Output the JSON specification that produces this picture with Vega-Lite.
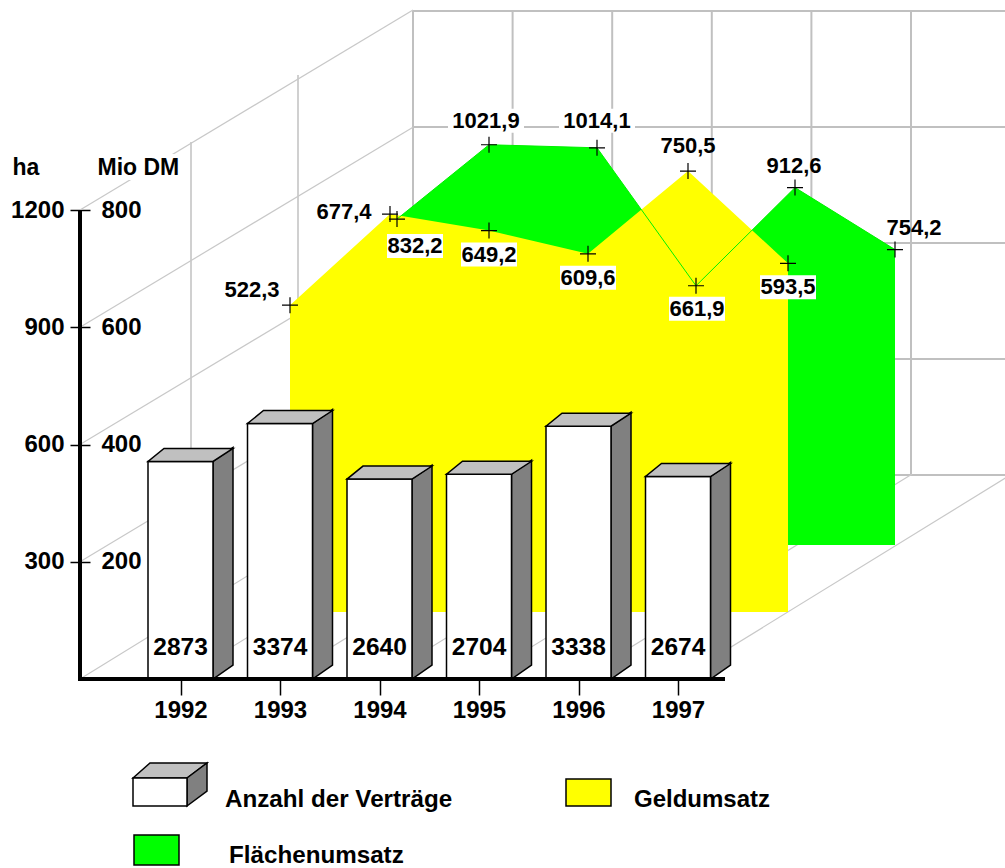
{"$schema":"https://vega.github.io/schema/vega-lite/v6.json","width":1005,"height":868,"padding":0,"autosize":{"type":"none"},"background":"white",
"config":{"view":{"stroke":null},"font":"Liberation Sans","locale":{"number":{"decimal":",","thousands":".","grouping":[3],"currency":["","DM"]}},"text":{"font":"Liberation Sans","fontWeight":"bold","fontSize":22,"color":"black"},"axis":{"labelFont":"Liberation Sans","labelFontWeight":"bold","labelFontSize":24,"labelColor":"black","titleFont":"Liberation Sans","titleFontWeight":"bold","titleFontSize":23,"titleColor":"black","grid":false}},
"datasets":{
"contracts":[{"year":"1992","contracts":2873},{"year":"1993","contracts":3374},{"year":"1994","contracts":2640},{"year":"1995","contracts":2704},{"year":"1996","contracts":3338},{"year":"1997","contracts":2674}],
"money":[{"year":1992,"value":522.3},{"year":1993,"value":677.4},{"year":1994,"value":649.2},{"year":1995,"value":609.6},{"year":1996,"value":750.5},{"year":1997,"value":593.5}],
"area":[{"year":1992,"value":832.2},{"year":1993,"value":1021.9},{"year":1994,"value":1014.1},{"year":1995,"value":661.9},{"year":1996,"value":912.6},{"year":1997,"value":754.2}],
"levels":[{"ha":0,"dm":0},{"ha":300,"dm":200},{"ha":600,"dm":400},{"ha":900,"dm":600},{"ha":1200,"dm":800}],
"columns":[{"col":0},{"col":1},{"col":2},{"col":3},{"col":4},{"col":5},{"col":6}],
"depths":[{"depth":1},{"depth":2}],
"legend":[{"series":"Anzahl der Verträge","column":0,"row":0},{"series":"Geldumsatz","column":1,"row":0},{"series":"Flächenumsatz","column":0,"row":1}]
},
"resolve":{"scale":{"x":"independent","y":"independent","xOffset":"independent","yOffset":"independent","fill":"independent","shape":"independent"},"axis":{"x":"independent","y":"independent"}},
"layer":[
{"data":{"name":"levels"},"mark":{"type":"rule","color":"#c0c0c0","strokeWidth":2},"encoding":{"x":{"datum":0,"type":"quantitative","scale":{"domain":[0,1],"range":[413,1005]},"axis":null},"x2":{"datum":1},"y":{"field":"ha","type":"quantitative","scale":{"domain":[0,1200],"range":[475,11]},"axis":null}}},
{"data":{"name":"columns"},"transform":[{"filter":"datum.col<6"}],"mark":{"type":"rule","color":"#c0c0c0","strokeWidth":2},"encoding":{"x":{"field":"col","type":"quantitative","scale":{"domain":[0,5],"range":[413,911]},"axis":null},"y":{"datum":0,"type":"quantitative","scale":{"domain":[0,1200],"range":[475,11]},"axis":null},"y2":{"datum":1200}}},
{"data":{"name":"depths"},"transform":[{"filter":"datum.depth==1"}],"mark":{"type":"rule","color":"#c0c0c0","strokeWidth":1.5},"encoding":{"x":{"field":"depth","type":"quantitative","scale":{"domain":[1,2],"range":[191,298]},"axis":null},"y":{"datum":0,"type":"quantitative","scale":{"domain":[0,1200],"range":[612,142]},"axis":null},"y2":{"datum":1200}}},
{"data":{"name":"depths"},"transform":[{"filter":"datum.depth==2"}],"mark":{"type":"rule","color":"#c0c0c0","strokeWidth":1.5},"encoding":{"x":{"field":"depth","type":"quantitative","scale":{"domain":[1,2],"range":[191,298]},"axis":null},"y":{"datum":0,"type":"quantitative","scale":{"domain":[0,1200],"range":[545,75]},"axis":null},"y2":{"datum":1200}}},
{"data":{"name":"levels"},"transform":[{"filter":"datum.ha>0"},{"fold":["near","far"]}],"mark":{"type":"line","color":"#c8c8c8","strokeWidth":1.2,"yOffset":{"expr":"datum.key=='far'?-200:0"}},"encoding":{"x":{"field":"key","type":"nominal","scale":{"type":"point","padding":0,"domain":["near","far"],"range":[80,413]},"axis":null},"y":{"field":"ha","type":"quantitative","scale":{"domain":[0,1200],"range":[679,210]},"axis":{"orient":"left","offset":-90,"values":[300,600,900,1200],"format":"d","domain":false,"tickSize":20,"tickColor":"black","tickWidth":1.5,"labelPadding":6,"title":"ha","titleAngle":0,"titleAlign":"left","titleBaseline":"middle","titleX":-78,"titleY":167}},"detail":{"field":"ha"}}},
{"data":{"name":"columns"},"transform":[{"fold":["near","far"]}],"mark":{"type":"line","color":"#c8c8c8","strokeWidth":1.2},"encoding":{"x":{"field":"col","type":"nominal","scale":{"type":"point","padding":0,"domain":[0,1,2,3,4,5,6],"range":[80,679]},"axis":null},"xOffset":{"field":"key","type":"nominal","scale":{"type":"point","padding":0,"domain":["near","far"],"range":[0,333]}},"y":{"datum":0,"type":"quantitative","scale":{"domain":[0,1200],"range":[679,210]},"axis":null},"yOffset":{"field":"key","type":"nominal","scale":{"type":"point","padding":0,"domain":["near","far"],"range":[0,-205]}},"detail":{"field":"col"}}},
{"data":{"name":"levels"},"transform":[{"filter":"datum.dm==800"}],"mark":{"type":"point","shape":"M-45,-13H45V13H-45Z","size":4,"filled":true,"fill":"white","stroke":null,"opacity":1,"yOffset":-43},"encoding":{"x":{"datum":0,"type":"quantitative","scale":{"domain":[0,1],"range":[139,140]},"axis":null},"y":{"field":"dm","type":"quantitative","scale":{"domain":[0,800],"range":[679,210]},"axis":null}}},
{"data":{"name":"levels"},"mark":{"type":"point","opacity":0},"encoding":{"y":{"field":"dm","type":"quantitative","scale":{"domain":[0,800],"range":[679,210]},"axis":{"orient":"left","offset":-141,"zindex":1,"values":[200,400,600,800],"format":"d","domain":false,"ticks":false,"labelPadding":0,"title":"Mio DM","titleAngle":0,"titleAlign":"left","titleBaseline":"middle","titleX":-44,"titleY":167}}}},
{"data":{"name":"area"},"mark":{"type":"area","color":"#00ff00"},"encoding":{"x":{"field":"year","type":"quantitative","scale":{"domain":[1992,1993,1994,1995,1996,1997],"range":[397,489,597,696,795,895]},"axis":null},"y":{"field":"value","type":"quantitative","stack":null,"scale":{"domain":[0,1200],"range":[545,75]},"axis":null}}},
{"data":{"name":"money"},"encoding":{"x":{"field":"year","type":"quantitative","scale":{"domain":[1992,1993,1994,1995,1996,1997],"range":[290,390,489,588,688,788]},"axis":null},"y":{"field":"value","type":"quantitative","stack":null,"scale":{"domain":[0,800],"range":[612,142]},"axis":null}},"layer":[
{"mark":{"type":"area","color":"#ffff00"}}
]},
{"data":{"name":"area"},"mark":{"type":"line","color":"#00f000","strokeWidth":1},"encoding":{"x":{"field":"year","type":"quantitative","scale":{"domain":[1992,1993,1994,1995,1996,1997],"range":[397,489,597,696,795,895]},"axis":null},"y":{"field":"value","type":"quantitative","scale":{"domain":[0,1200],"range":[545,75]},"axis":null}}},
{"data":{"name":"money"},"encoding":{"x":{"field":"year","type":"quantitative","scale":{"domain":[1992,1993,1994,1995,1996,1997],"range":[290,390,489,588,688,788]},"axis":null},"y":{"field":"value","type":"quantitative","scale":{"domain":[0,800],"range":[612,142]},"axis":null}},"layer":[
{"mark":{"type":"point","shape":"M-8,0H8M0,-8V8","size":4,"filled":false,"stroke":"black","strokeWidth":1.2,"opacity":1}},
{"transform":[{"filter":"datum.year==1994||datum.year==1995||datum.year==1997"}],"mark":{"type":"point","shape":"M-28,-12H28V12H-28Z","size":4,"filled":true,"fill":"white","stroke":null,"opacity":1,"yOffset":24}},
{"transform":[{"filter":"datum.year==1994||datum.year==1995||datum.year==1997"}],"mark":{"type":"text","dy":24},"encoding":{"text":{"field":"value","type":"quantitative","format":".1f"}}},
{"transform":[{"filter":"datum.year==1992"}],"mark":{"type":"text","dx":-38,"dy":-15},"encoding":{"text":{"field":"value","type":"quantitative","format":".1f"}}},
{"transform":[{"filter":"datum.year==1993"}],"mark":{"type":"text","dx":-46,"dy":-2},"encoding":{"text":{"field":"value","type":"quantitative","format":".1f"}}},
{"transform":[{"filter":"datum.year==1996"}],"mark":{"type":"text","dy":-25},"encoding":{"text":{"field":"value","type":"quantitative","format":".1f"}}}
]},
{"data":{"name":"area"},"encoding":{"x":{"field":"year","type":"quantitative","scale":{"domain":[1992,1993,1994,1995,1996,1997],"range":[397,489,597,696,795,895]},"axis":null},"y":{"field":"value","type":"quantitative","scale":{"domain":[0,1200],"range":[545,75]},"axis":null}},"layer":[
{"mark":{"type":"point","shape":"M-8,0H8M0,-8V8","size":4,"filled":false,"stroke":"black","strokeWidth":1.2,"opacity":1}},
{"transform":[{"filter":"datum.year==1992"}],"mark":{"type":"point","shape":"M-28,-12H28V12H-28Z","size":4,"filled":true,"fill":"white","stroke":null,"opacity":1,"xOffset":18,"yOffset":27}},
{"transform":[{"filter":"datum.year==1992"}],"mark":{"type":"text","dx":18,"dy":27},"encoding":{"text":{"field":"value","type":"quantitative","format":".1f"}}},
{"transform":[{"filter":"datum.year==1993"}],"mark":{"type":"point","shape":"M-38,-12H38V12H-38Z","size":4,"filled":true,"fill":"white","stroke":null,"opacity":1,"xOffset":-3,"yOffset":-24}},
{"transform":[{"filter":"datum.year==1993"}],"mark":{"type":"text","dx":-3,"dy":-24},"encoding":{"text":{"field":"value","type":"quantitative","format":".1f"}}},
{"transform":[{"filter":"datum.year==1994"}],"mark":{"type":"point","shape":"M-38,-12H38V12H-38Z","size":4,"filled":true,"fill":"white","stroke":null,"opacity":1,"yOffset":-27}},
{"transform":[{"filter":"datum.year==1994"}],"mark":{"type":"text","dy":-27},"encoding":{"text":{"field":"value","type":"quantitative","format":".1f"}}},
{"transform":[{"filter":"datum.year==1995"}],"mark":{"type":"point","shape":"M-28,-12H28V12H-28Z","size":4,"filled":true,"fill":"white","stroke":null,"opacity":1,"xOffset":1,"yOffset":23}},
{"transform":[{"filter":"datum.year==1995"}],"mark":{"type":"text","dx":1,"dy":23},"encoding":{"text":{"field":"value","type":"quantitative","format":".1f"}}},
{"transform":[{"filter":"datum.year==1996"}],"mark":{"type":"text","dx":-1,"dy":-22},"encoding":{"text":{"field":"value","type":"quantitative","format":".1f"}}},
{"transform":[{"filter":"datum.year==1997"}],"mark":{"type":"text","dx":19,"dy":-22},"encoding":{"text":{"field":"value","type":"quantitative","format":".1f"}}}
]},
{"data":{"name":"contracts"},"encoding":{"x":{"field":"year","type":"nominal","scale":{"type":"point","padding":0,"domain":["1992","1993","1994","1995","1996","1997"],"range":[180.5,678]},"axis":{"orient":"bottom","offset":-188,"domain":false,"tickSize":15,"tickColor":"black","tickWidth":1.5,"labelAngle":0,"labelPadding":3,"title":null}},"y":{"field":"contracts","type":"quantitative","stack":null,"scale":{"domain":[0,6194],"range":[679,210]},"axis":null}},"layer":[
{"transform":[{"fold":["near","far"]}],"mark":{"type":"area","color":"#808080","stroke":"black","strokeWidth":1.5,"yOffset":{"expr":"datum.key=='far'?-14:0"},"y2Offset":{"expr":"datum.key=='far'?-14:0"}},"encoding":{"xOffset":{"field":"key","type":"nominal","scale":{"type":"point","padding":0,"domain":["near","far"],"range":[32.5,52.5]}},"y2":{"datum":0},"detail":{"field":"year"}}},
{"mark":{"type":"bar","size":65,"color":"white","stroke":"black","strokeWidth":1.5}},
{"mark":{"type":"point","shape":"M-32.5,0L32.5,0L52.5,-13L-16.5,-13Z","size":4,"filled":true,"fill":"#c0c0c0","stroke":"black","strokeWidth":1.5,"opacity":1}},
{"mark":{"type":"text","fontSize":24.5,"dy":-31},"encoding":{"y":{"datum":0,"type":"quantitative"},"text":{"field":"contracts","type":"quantitative","format":"d"}}}
]},
{"data":{"values":[{"axis":"ha"}]},"mark":{"type":"rule","color":"black","strokeWidth":4},"encoding":{"x":{"datum":0,"type":"quantitative","scale":{"domain":[0,1],"range":[80,725]},"axis":null},"y":{"datum":0,"type":"quantitative","scale":{"domain":[0,1200],"range":[679,210]},"axis":null},"y2":{"datum":1200}}},
{"data":{"values":[{"axis":"years"}]},"mark":{"type":"rule","color":"black","strokeWidth":4},"encoding":{"x":{"datum":0,"type":"quantitative","scale":{"domain":[0,1],"range":[78,725]},"axis":null},"x2":{"datum":1},"y":{"datum":0,"type":"quantitative","scale":{"domain":[0,1200],"range":[679,210]},"axis":null}}},
{"data":{"name":"legend"},"encoding":{"x":{"field":"column","type":"nominal","scale":{"type":"point","padding":0,"domain":[0,1],"range":[133,566]},"axis":null},"y":{"field":"row","type":"nominal","scale":{"type":"point","padding":0,"domain":[0,1],"range":[806,865]},"axis":null}},"layer":[
{"transform":[{"filter":"datum.series=='Anzahl der Verträge'"}],"mark":{"type":"point","shape":"M0,-28L17,-43H74L54,-28Z","size":4,"filled":true,"fill":"#c0c0c0","stroke":"black","strokeWidth":1.5,"opacity":1}},
{"transform":[{"filter":"datum.series=='Anzahl der Verträge'"}],"mark":{"type":"point","shape":"M54,0L74,-15V-43L54,-28Z","size":4,"filled":true,"fill":"#808080","stroke":"black","strokeWidth":1.5,"opacity":1}},
{"mark":{"type":"point","size":4,"filled":true,"stroke":"black","strokeWidth":1.5,"opacity":1},"encoding":{"fill":{"field":"series","type":"nominal","scale":{"domain":["Anzahl der Verträge","Geldumsatz","Flächenumsatz"],"range":["white","#ffff00","#00ff00"]},"legend":null},"shape":{"field":"series","type":"nominal","scale":{"domain":["Anzahl der Verträge","Geldumsatz","Flächenumsatz"],"range":["M0,0H54V-28H0Z","M0,0H45V-27H0Z","M1,0H46V-30H1Z"]},"legend":null}}},
{"transform":[{"filter":"datum.series=='Anzahl der Verträge'"}],"mark":{"type":"text","fontSize":24.2,"align":"left","dx":92,"dy":-6},"encoding":{"text":{"field":"series","type":"nominal"}}},
{"transform":[{"filter":"datum.series=='Geldumsatz'"}],"mark":{"type":"text","fontSize":24,"align":"left","dx":68,"dy":-6},"encoding":{"text":{"field":"series","type":"nominal"}}},
{"transform":[{"filter":"datum.series=='Flächenumsatz'"}],"mark":{"type":"text","fontSize":24.2,"align":"left","dx":96,"dy":-9},"encoding":{"text":{"field":"series","type":"nominal"}}}
]}
]}
